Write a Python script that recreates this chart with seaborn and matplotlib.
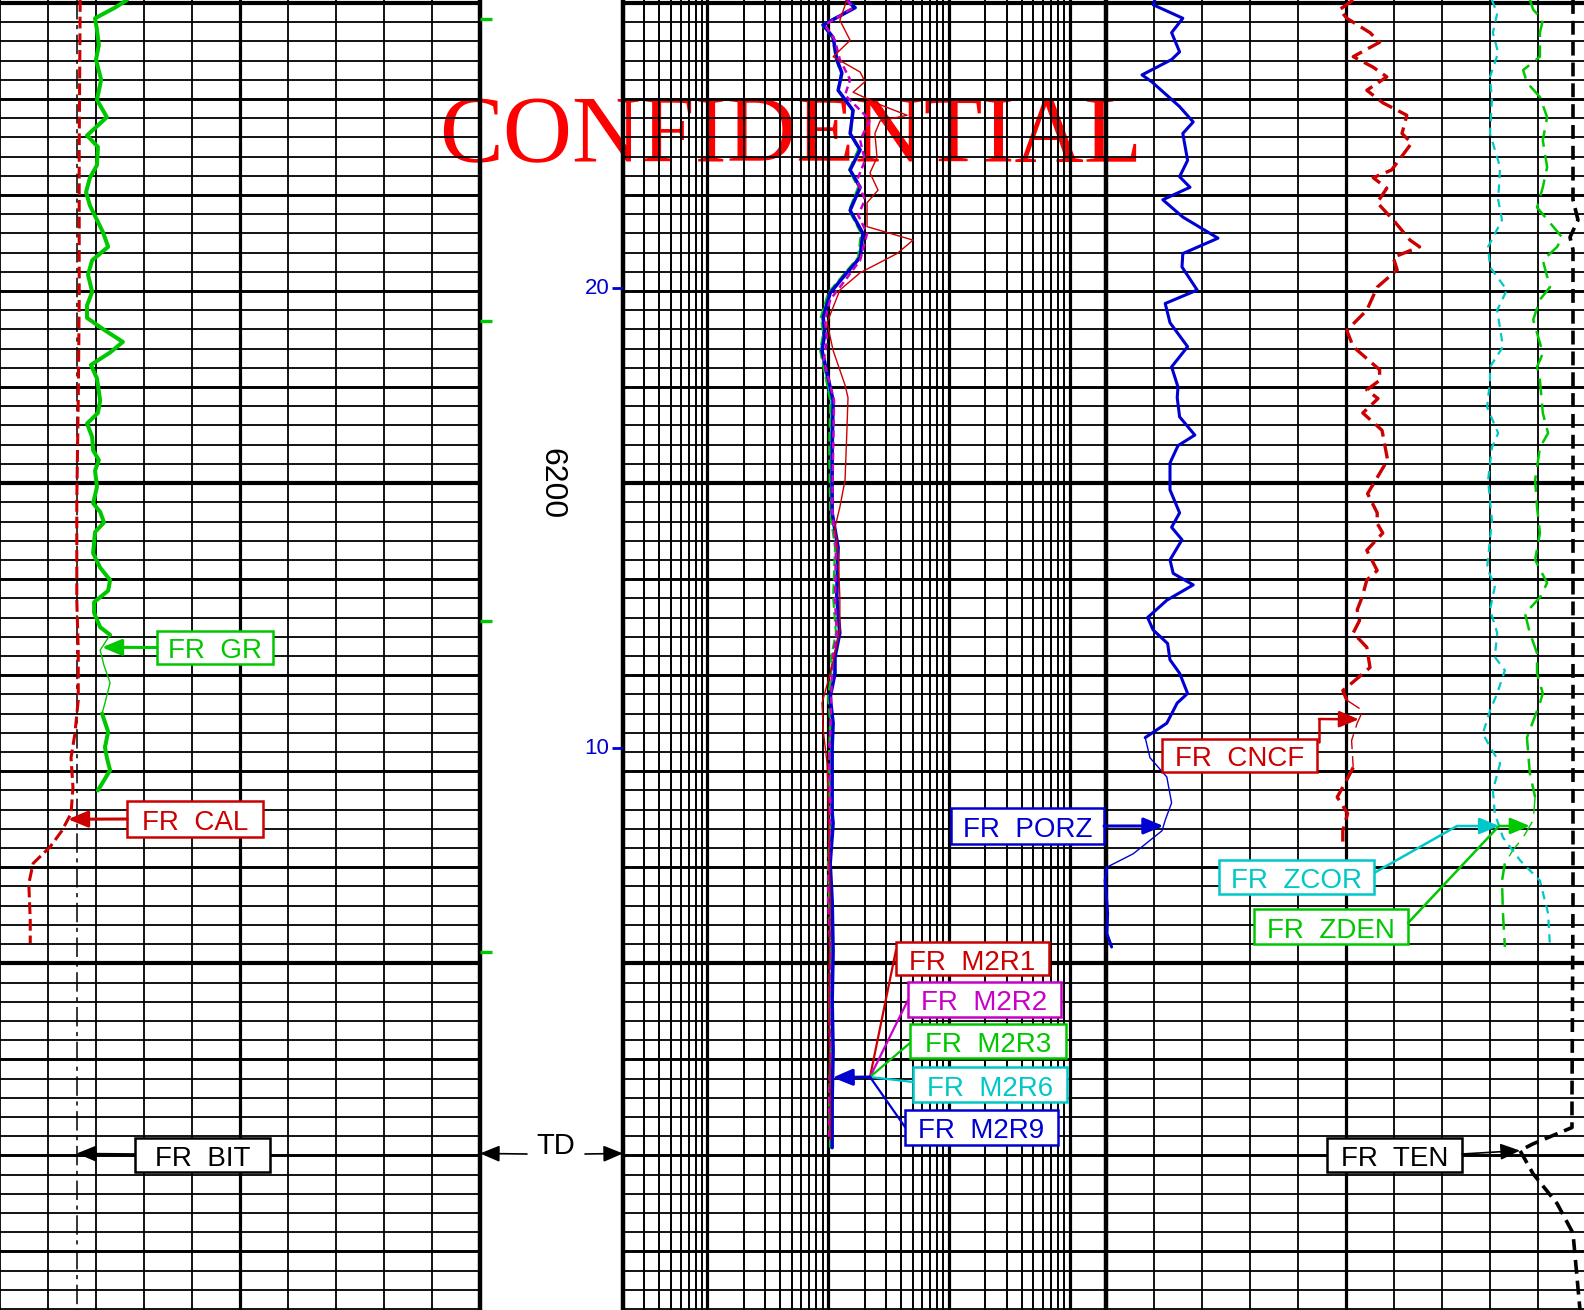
import numpy as np
import matplotlib
matplotlib.use("Agg")
import matplotlib.pyplot as plt
import matplotlib.patches as patches
from matplotlib.ticker import MultipleLocator, LogLocator, NullFormatter
import seaborn as sns

W, H = 1584, 1310
DEPTH_TOP, DEPTH_BOT = 6149.7, 6286.1

RED = "#cc0000"
GREEN = "#00c800"
BLUE = "#0000d2"
CYAN = "#00c8c8"
MAGENTA = "#c800c8"

# ---------------- track 1 : gamma ray (gAPI), caliper and bit size (in)
gr_depth = [6149.7, 6150.5, 6151.6, 6152.8, 6154.4, 6155.9, 6158.0, 6160.1, 6161.9, 6163.8,
            6165.0, 6166.9, 6168.2, 6169.7, 6171.1, 6173.9, 6175.4, 6176.8, 6178.3, 6180.1,
            6181.5, 6182.8, 6184.1, 6185.3, 6186.4, 6187.7, 6189.1, 6191.4, 6192.7, 6193.8,
            6195.2, 6196.6, 6197.6, 6198.7, 6200.4, 6202.1, 6203.0, 6204.1, 6205.1, 6207.3,
            6208.8, 6210.1, 6211.2, 6212.4, 6213.5, 6215.0, 6215.8, 6217.4, 6219.0, 6220.8,
            6222.9, 6224.0, 6225.9, 6227.5, 6228.6, 6229.9, 6232.0]
gr_api = [39.7, 35.9, 29.7, 30.3, 30.9, 30.0, 31.6, 30.3, 33.4, 27.2,
          30.6, 30.3, 28.1, 26.9, 28.1, 32.2, 33.8, 28.8, 27.5, 28.8,
          27.2, 27.2, 32.8, 38.4, 34.4, 28.4, 30.3, 31.3, 30.6, 27.2,
          28.8, 29.1, 30.9, 29.7, 30.3, 29.1, 31.3, 32.5, 29.7, 29.1,
          31.3, 34.4, 33.8, 29.4, 29.4, 31.3, 34.4, 31.3, 32.5, 34.4,
          32.8, 31.9, 33.8, 32.8, 33.4, 34.4, 30.6]
gr_thin = (6215.8, 6224.0)

cal_depth = [6149.7, 6165.3, 6180.9, 6191.4, 6201.8, 6212.2, 6217.4, 6222.6, 6226.1,
             6228.6, 6231.7, 6234.4, 6236.2, 6237.9, 6239.6, 6241.7, 6245.5, 6247.9]
cal_in = [7.67, 7.65, 7.65, 7.63, 7.60, 7.60, 7.63, 7.63, 7.56,
          7.48, 7.52, 7.48, 7.29, 7.04, 6.69, 6.60, 6.63, 6.63]
bit_size = 7.6

# ---------------- track 2 : array resistivities (ohm.m)
res_depth = [6149.7, 6150.5, 6152.3, 6153.6, 6155.9, 6157.3, 6159.1, 6161.2, 6163.6, 6165.3,
             6167.4, 6169.2, 6171.6, 6174.0, 6176.5, 6178.1, 6180.2, 6182.7, 6184.4, 6186.2,
             6191.4, 6196.3, 6203.1, 6206.7, 6211.9, 6215.6, 6218.1, 6219.8, 6222.3, 6225.0,
             6227.5, 6234.4, 6235.4, 6239.6, 6243.5, 6248.7, 6253.9, 6259.1, 6264.3, 6269.2]
m2r9 = [14.3, 16.7, 9.1, 11.0, 11.8, 13.0, 12.1, 16.1, 15.2, 18.4,
        15.2, 18.4, 15.2, 19.4, 18.4, 14.3, 10.4, 9.1, 9.4, 8.9,
        11.0, 10.8, 10.8, 12.1, 11.8, 12.5, 11.4, 11.4, 10.4, 11.0,
        10.8, 10.8, 11.0, 10.4, 10.8, 11.0, 10.8, 11.0, 10.8, 10.8]
m2r6 = [14.3, 17.0, 9.1, 11.0, 11.8, 13.0, 12.1, 16.1, 15.2, 18.0,
        15.2, 18.0, 15.2, 19.1, 18.0, 14.1, 10.2, 8.9, 9.2, 8.7,
        10.6, 10.6, 10.6, 11.8, 11.6, 12.3, 11.2, 11.2, 10.4, 10.8,
        10.6, 10.6, 10.8, 10.2, 10.6, 10.8, 10.6, 10.8, 10.6, 10.6]
m2r3 = [14.1, 16.1, 8.9, 10.8, 11.6, 12.8, 12.1, 15.8, 15.5, 17.7,
        14.9, 17.7, 14.9, 18.7, 17.7, 13.8, 10.0, 8.7, 9.1, 8.6,
        10.4, 10.2, 10.4, 11.4, 11.0, 11.6, 10.6, 10.6, 10.0, 10.4,
        10.2, 10.2, 10.4, 10.0, 10.2, 10.4, 10.2, 10.4, 10.2, 10.4]
m2r2_depth = [6149.7, 6150.5, 6152.3, 6153.9, 6155.9, 6158.0, 6159.6, 6162.2, 6164.3, 6166.4,
              6168.5, 6170.5, 6172.1, 6174.0, 6176.8, 6178.9, 6180.9, 6183.0, 6185.1, 6187.2,
              6191.4, 6196.6, 6202.8, 6206.7, 6212.2, 6215.6, 6218.5, 6222.6, 6225.7, 6228.9,
              6233.0, 6238.2, 6243.5, 6248.7, 6253.9, 6259.1, 6264.3, 6268.4]
m2r2 = [14.3, 16.1, 9.4, 11.4, 12.5, 15.2, 13.8, 22.2, 18.4, 20.2,
        17.3, 20.2, 17.7, 21.0, 18.4, 13.8, 10.4, 9.4, 9.8, 9.2,
        11.2, 11.0, 10.8, 11.6, 11.4, 11.8, 10.8, 10.6, 10.4, 10.2,
        10.4, 10.2, 10.0, 10.4, 10.2, 10.4, 10.2, 10.2]
m2r1_depth = [6149.7, 6151.8, 6153.9, 6155.6, 6157.2, 6158.2, 6159.3, 6160.6, 6161.7, 6162.3,
              6163.6, 6166.1, 6167.7, 6169.5, 6170.8, 6173.3, 6174.7, 6176.1, 6178.1, 6179.9,
              6183.3, 6186.2, 6189.8, 6191.1, 6194.5, 6199.7, 6202.5, 6204.6, 6207.3, 6211.9,
              6215.3, 6217.7, 6219.8, 6222.9, 6225.7, 6229.2, 6233.0, 6238.2, 6243.5, 6253.9,
              6264.3, 6268.4]
m2r1 = [14.3, 12.5, 15.2, 11.0, 18.4, 20.2, 16.1, 26.9, 45.0, 26.9,
        24.4, 25.4, 22.2, 25.9, 21.0, 21.0, 50.5, 37.2, 18.4, 12.5,
        9.8, 11.0, 13.8, 14.6, 14.3, 13.8, 12.5, 11.4, 12.1, 12.5,
        12.5, 11.4, 10.4, 8.9, 9.1, 9.8, 10.0, 10.2, 10.4, 10.2,
        10.4, 10.4]

# ---------------- track 3 : porosities (v/v), density (g/cc), correction, tension (lbf)
porz_depth = [6149.7, 6150.2, 6151.6, 6153.1, 6155.1, 6155.9, 6157.5, 6158.2, 6160.8, 6162.4,
              6163.6, 6166.4, 6168.1, 6169.2, 6170.5, 6172.3, 6174.5, 6176.1, 6177.5, 6179.9,
              6181.3, 6183.3, 6185.8, 6187.9, 6190.0, 6191.1, 6193.1, 6195.0, 6196.1, 6197.9,
              6200.7, 6203.1, 6204.6, 6205.9, 6208.0, 6209.4, 6210.6, 6212.2, 6214.0, 6215.3,
              6216.7, 6218.4, 6219.8, 6221.9, 6222.9, 6225.0, 6226.5, 6228.6, 6230.6, 6233.3,
              6235.1, 6236.2, 6237.2, 6238.6, 6240.0, 6241.4, 6244.8, 6246.9, 6248.3]
porz = [0.389, 0.391, 0.354, 0.368, 0.358, 0.368, 0.405, 0.393, 0.358, 0.341,
        0.354, 0.348, 0.358, 0.345, 0.379, 0.354, 0.310, 0.354, 0.355, 0.336,
        0.376, 0.370, 0.348, 0.368, 0.360, 0.361, 0.358, 0.339, 0.360, 0.370,
        0.370, 0.358, 0.368, 0.355, 0.370, 0.366, 0.341, 0.374, 0.398, 0.391,
        0.373, 0.370, 0.358, 0.348, 0.361, 0.374, 0.401, 0.395, 0.374, 0.368,
        0.376, 0.380, 0.395, 0.416, 0.449, 0.451, 0.448, 0.449, 0.443]
porz_thin = (6226.5, 6240.0)

cncf_depth = [6149.7, 6150.7, 6151.6, 6153.1, 6154.1, 6155.6, 6156.7, 6157.7, 6159.1, 6160.4,
              6161.7, 6163.6, 6164.6, 6167.4, 6168.2, 6169.3, 6170.8, 6172.6, 6174.7, 6175.4,
              6176.5, 6177.8, 6179.6, 6182.0, 6184.1, 6185.8, 6188.2, 6189.3, 6190.3, 6191.2,
              6192.7, 6194.5, 6197.6, 6199.0, 6201.1, 6203.1, 6204.2, 6205.2, 6207.0, 6209.1,
              6210.1, 6211.9, 6213.2, 6214.3, 6215.6, 6217.1, 6219.2, 6220.7, 6221.6, 6222.6,
              6223.7, 6225.0, 6226.8, 6229.6, 6230.9, 6232.7, 6234.4, 6236.2, 6237.9]
cncf = [0.141, 0.158, 0.149, 0.120, 0.108, 0.141, 0.116, 0.099, 0.124, 0.104,
        0.074, 0.080, 0.068, 0.093, 0.116, 0.099, 0.111, 0.091, 0.070, 0.058,
        0.091, 0.086, 0.111, 0.124, 0.149, 0.141, 0.108, 0.108, 0.124, 0.110,
        0.129, 0.105, 0.098, 0.108, 0.123, 0.111, 0.111, 0.104, 0.124, 0.111,
        0.124, 0.130, 0.136, 0.133, 0.141, 0.124, 0.120, 0.141, 0.154, 0.149,
        0.129, 0.136, 0.143, 0.141, 0.149, 0.161, 0.148, 0.154, 0.154]
cncf_thin = (6222.6, 6229.6)

zcor_depth = [6149.7, 6151.1, 6153.1, 6155.2, 6157.7, 6160.1, 6163.6, 6167.1, 6170.5, 6172.6,
              6175.4, 6177.5, 6179.9, 6182.0, 6185.8, 6187.9, 6189.3, 6192.1, 6194.8, 6196.3,
              6199.7, 6203.9, 6208.8, 6210.8, 6213.2, 6215.6, 6218.1, 6219.5, 6221.9, 6223.7,
              6226.1, 6227.8, 6229.2, 6232.0, 6234.4, 6236.9, 6239.3, 6241.4, 6244.8, 6248.3]
zcor = [0.054, 0.065, 0.056, 0.067, 0.050, 0.054, 0.050, 0.071, 0.067, 0.075,
        0.046, 0.050, 0.085, 0.065, 0.077, 0.050, 0.050, 0.044, 0.067, 0.054,
        0.046, 0.054, 0.044, 0.060, 0.050, 0.065, 0.060, 0.081, 0.065, 0.050,
        0.035, 0.054, 0.071, 0.056, 0.060, 0.077, 0.113, 0.154, 0.171, 0.175]

zden_depth = [6149.7, 6150.7, 6151.8, 6153.1, 6155.6, 6157.0, 6158.3, 6159.8, 6161.9, 6164.3,
              6167.1, 6169.2, 6171.3, 6172.9, 6174.4, 6175.4, 6176.8, 6179.6, 6180.9, 6183.0,
              6185.4, 6186.5, 6187.9, 6189.3, 6192.7, 6194.8, 6196.3, 6199.7, 6202.5, 6205.2,
              6208.0, 6210.4, 6211.9, 6213.6, 6215.6, 6217.7, 6219.8, 6221.9, 6222.9, 6226.5,
              6230.2, 6232.7, 6235.1, 6236.9, 6238.2, 6239.6, 6241.4, 6244.8, 6248.3]
zden = [2.833, 2.840, 2.860, 2.854, 2.854, 2.819, 2.827, 2.854, 2.869, 2.860,
        2.869, 2.860, 2.848, 2.875, 2.900, 2.890, 2.860, 2.875, 2.854, 2.840,
        2.854, 2.860, 2.848, 2.854, 2.860, 2.871, 2.854, 2.844, 2.848, 2.854,
        2.844, 2.869, 2.854, 2.823, 2.833, 2.848, 2.848, 2.860, 2.854, 2.827,
        2.833, 2.844, 2.840, 2.819, 2.798, 2.781, 2.775, 2.777, 2.781]
zden_thin = (6232.7, 6239.6)

ten_depth = [6149.7, 6170.5, 6172.6, 6174.4, 6175.7, 6191.4, 6222.6, 6243.5, 6264.3,
             6267.1, 6268.8, 6269.5, 6271.9, 6275.0, 6278.1, 6283.8, 6286.1]
ten = [9729, 9729, 9833, 9667, 9729, 9729, 9729, 9729, 9708,
       9708, 8896, 8625, 8896, 9396, 9729, 9833, 9875]

# ---------------- depth track marks
depth_label = 6200
mark_depths = [6179.7, 6227.6]
mark_labels = ["20", "10"]
gr_tick_depths = [6151.7, 6183.1, 6214.4, 6248.8]
td_depth = 6269.8


sns.set_theme(style="white")
plt.rcParams["font.family"] = ["Liberation Sans", "DejaVu Sans"]
plt.rcParams["lines.scale_dashes"] = False

fig = plt.figure(figsize=(W / 100, H / 100), dpi=100, facecolor="white")


def add_track(x0, x1):
    ax = fig.add_axes([x0 / W, 0, (x1 - x0) / W, 1])
    ax.patch.set_alpha(0)
    ax.set_ylim(DEPTH_BOT, DEPTH_TOP)
    ax.yaxis.set_major_locator(MultipleLocator(10))
    ax.yaxis.set_minor_locator(MultipleLocator(2))
    ax.grid(True, which="minor", axis="y", color="black", lw=1.3)
    ax.grid(True, which="major", axis="y", color="black", lw=2.1)
    for d in range(6150, 6300, 50):
        ax.axhline(d, color="black", lw=3.0, zorder=1)
    for s in ax.spines.values():
        s.set_visible(False)
    return ax


def draw(ax, vals, depth, color, lw, dash=None, **kw):
    ls = "-" if dash is None else (0, dash)
    sns.lineplot(x=np.asarray(vals), y=np.asarray(depth), ax=ax, color=color,
                 linewidth=lw, linestyle=ls, sort=False, estimator=None, **kw)


def draw_split(ax, vals, depth, thin, color, lw_thick, lw_thin, dash=None, **kw):
    vals = np.asarray(vals)
    depth = np.asarray(depth)
    parts = [(depth <= thin[0], lw_thick),
             ((depth >= thin[0]) & (depth <= thin[1]), lw_thin),
             (depth >= thin[1], lw_thick)]
    for mask, lw in parts:
        draw(ax, vals[mask], depth[mask], color, lw, dash, **kw)


# ---- track 1
ax1 = add_track(0, 480)
ax1.set_xlim(6, 16)
ax1.xaxis.set_major_locator(MultipleLocator(1))
ax1.grid(True, which="major", axis="x", color="black", lw=1.3)
ax1.axvline(11, color="black", lw=2.3, zorder=1)
ax1.axvline(16, color="black", lw=3.2, zorder=1, clip_on=False)

ax_gr = ax1.twiny()
ax_gr.set_xlim(0, 150)

draw(ax1, [bit_size, bit_size], [DEPTH_TOP, DEPTH_BOT], "black", 1.1, dash=(14, 4, 3, 4))
draw(ax1, cal_in, cal_depth, RED, 2.2, dash=(8.5, 3.5))
draw_split(ax_gr, gr_api, gr_depth, gr_thin, GREEN, 2.9, 1.0)

# ---- track 2 (log)
ax2 = add_track(623, 1106)
ax2.set_xscale("log")
ax2.set_xlim(0.2, 2000)
ax2.xaxis.set_major_locator(LogLocator(base=10, numticks=12))
ax2.xaxis.set_minor_locator(LogLocator(base=10, subs=np.arange(2, 10), numticks=12))
ax2.xaxis.set_minor_formatter(NullFormatter())
ax2.grid(True, which="major", axis="x", color="black", lw=2.3)
ax2.grid(True, which="minor", axis="x", color="black", lw=1.4)
ax2.axvline(0.2, color="black", lw=3.2, zorder=1, clip_on=False)
ax2.axvline(2000, color="black", lw=3.2, zorder=1, clip_on=False)

draw(ax2, m2r6, res_depth, CYAN, 1.5)
draw(ax2, m2r3, res_depth, GREEN, 1.6, dash=(7, 3))
draw(ax2, m2r9, res_depth, BLUE, 2.5)
draw(ax2, m2r2, m2r2_depth, MAGENTA, 1.8, dash=(5, 3))
draw(ax2, m2r1, m2r1_depth, RED, 1.0)

# ---- track 3
ax3 = add_track(1106, 1586)
ax3.set_xlim(0, 10)
ax3.xaxis.set_major_locator(MultipleLocator(1))
ax3.grid(True, which="major", axis="x", color="black", lw=1.3)
ax3.axvline(5, color="black", lw=2.3, zorder=1)

ax_por = ax3.twiny()
ax_por.set_xlim(0.45, -0.15)
ax_zden = ax3.twiny()
ax_zden.set_xlim(1.95, 2.95)
ax_zcor = ax3.twiny()
ax_zcor.set_xlim(-0.75, 0.25)
ax_ten = ax3.twiny()
ax_ten.set_xlim(0, 10000)

draw_split(ax_por, porz, porz_depth, porz_thin, BLUE, 2.2, 1.0, clip_on=False)
draw_split(ax_por, cncf, cncf_depth, cncf_thin, RED, 2.4, 1.0, dash=(11, 5))
draw(ax_zcor, zcor, zcor_depth, CYAN, 1.6, dash=(6, 4.5))
draw_split(ax_zden, zden, zden_depth, zden_thin, GREEN, 1.8, 1.0, dash=(12, 6))
draw(ax_ten, ten, ten_depth, "black", 2.6, dash=(10, 5), clip_on=False)

for ax in (ax1, ax2, ax3):
    ax.tick_params(which="both", length=0, labelleft=False, labelbottom=False,
                   labeltop=False, labelright=False)
    ax.set_xlabel("")
    ax.set_ylabel("")
for tw in (ax_gr, ax_por, ax_zden, ax_zcor, ax_ten):
    tw.set_axis_off()

# ---- depth track
axd = fig.add_axes([480 / W, 0, 143 / W, 1])
axd.set_xlim(0, 1)
axd.set_ylim(DEPTH_BOT, DEPTH_TOP)
axd.set_axis_off()
axd.hlines(gr_tick_depths, 0, 0.085, color=GREEN, lw=2.4)
axd.hlines(mark_depths, 0.92, 1.0, color=BLUE, lw=2.0)
for d, lab in zip(mark_depths, mark_labels):
    axd.text(0.905, d, lab, color=BLUE, fontsize=16, ha="right", va="center")
axd.text(0.497, depth_label, str(depth_label), rotation=-90, ha="center", va="center",
         fontsize=23, color="black")

for ax in (ax1, ax2, ax3):
    ax.set_ylim(DEPTH_BOT, DEPTH_TOP)

# ---- watermark under the grid
fig.text(791 / W, 1 - 162 / H, "CONFIDENTIAL", ha="center", va="baseline", fontsize=69,
         color="#ff0000", family=["Liberation Serif", "DejaVu Serif"], zorder=-5)

# ---- annotation layer (pixel coordinates, origin top-left)
ax_top = fig.add_axes([0, 0, 1, 1], zorder=10)
ax_top.set_xlim(0, W)
ax_top.set_ylim(H, 0)
ax_top.set_axis_off()

ARROW = "-|>,head_length=0.6,head_width=0.25"


def tag(x0, y0, x1, y1, text, color, fs=20):
    ax_top.add_patch(patches.Rectangle((x0, y0), x1 - x0, y1 - y0, facecolor="white",
                                       edgecolor=color, lw=1.8, zorder=3))
    ax_top.text((x0 + x1) / 2, (y0 + y1) / 2 + 1, text, color=color, fontsize=fs,
                ha="center", va="center_baseline", zorder=4)


def pointer(start, tip, tip_ax, color, lw=2.0):
    ax_top.annotate("", xy=tip, xycoords=tip_ax.transData, xytext=start, textcoords="data",
                    arrowprops=dict(arrowstyle=ARROW, color=color, lw=lw, shrinkA=0,
                                    shrinkB=0, mutation_scale=20), zorder=5)


def at(vals, depth, d):
    order = np.argsort(depth)
    return (float(np.interp(d, np.asarray(depth)[order], np.asarray(vals)[order])), d)


# track 1 labels
tag(157, 631, 273, 664, "FR  GR", GREEN)
pointer((157, 647.5), at(gr_api, gr_depth, 6217.1), ax_gr, GREEN, 2.2)
tag(127, 801, 263, 837, "FR  CAL", RED)
pointer((127, 819), at(cal_in, cal_depth, 6235.0), ax1, RED, 2.2)
tag(135, 1138, 270, 1172, "FR  BIT", "black")
pointer((135, 1154), (bit_size, td_depth), ax1, "black", 1.2)

# TD marker
ax_top.text(556, 1143, "TD", fontsize=21, ha="center", va="center_baseline", color="black")
pointer((527, 1154), (16, td_depth), ax1, "black", 1.2)
pointer((585, 1154), (0.2, td_depth), ax2, "black", 1.2)

# resistivity labels
fan = (870, 1077)
res_tags = [((896, 942, 1049, 975), "FR  M2R1", RED, (896, 950)),
            ((908, 982, 1061, 1017), "FR  M2R2", MAGENTA, (908, 1000)),
            ((910, 1024, 1066, 1058), "FR  M2R3", GREEN, (910, 1043)),
            ((913, 1067, 1067, 1102), "FR  M2R6", CYAN, (913, 1082)),
            ((905, 1110, 1058, 1145), "FR  M2R9", BLUE, (905, 1127))]
for box, text, color, end in res_tags:
    ax_top.plot([fan[0], end[0]], [fan[1], end[1]], color=color, lw=1.6, zorder=2)
    tag(*box, text, color)
pointer(fan, at(m2r9, res_depth, 6261.9), ax2, BLUE, 2.2)

# track 3 labels
tag(951, 808, 1104, 844, "FR  PORZ", BLUE)
pointer((1104, 826), at(porz, porz_depth, 6235.7), ax_por, BLUE, 2.2)

tag(1162, 739, 1317, 772, "FR  CNCF", RED)
ax_top.plot([1319, 1319], [742, 719], color=RED, lw=1.8)
pointer((1319, 719), at(cncf, cncf_depth, 6224.6), ax_por, RED, 1.8)

tag(1219, 860, 1374, 894, "FR  ZCOR", CYAN)
ax_top.plot([1374, 1457], [873, 826], color=CYAN, lw=1.8)
pointer((1457, 826), at(zcor, zcor_depth, 6235.7), ax_zcor, CYAN, 1.8)

tag(1254, 909, 1408, 944, "FR  ZDEN", GREEN)
zc_tip = at(zcor, zcor_depth, 6235.7)
ax_top.annotate("", xy=zc_tip, xycoords=ax_zcor.transData, xytext=(1408, 923), textcoords="data",
                arrowprops=dict(arrowstyle="-", color=GREEN, lw=1.8, shrinkA=0, shrinkB=0))
ax_top.annotate("", xy=at(zden, zden_depth, 6235.7), xycoords=ax_zden.transData,
                xytext=zc_tip, textcoords=ax_zcor.transData,
                arrowprops=dict(arrowstyle=ARROW, color=GREEN, lw=1.8, shrinkA=0,
                                shrinkB=0, mutation_scale=20))

tag(1327, 1138, 1462, 1172, "FR  TEN", "black")
pointer((1462, 1154), at(ten, ten_depth, 6269.5), ax_ten, "black", 1.2)

fig.savefig("out.png", dpi=100, facecolor="white")
